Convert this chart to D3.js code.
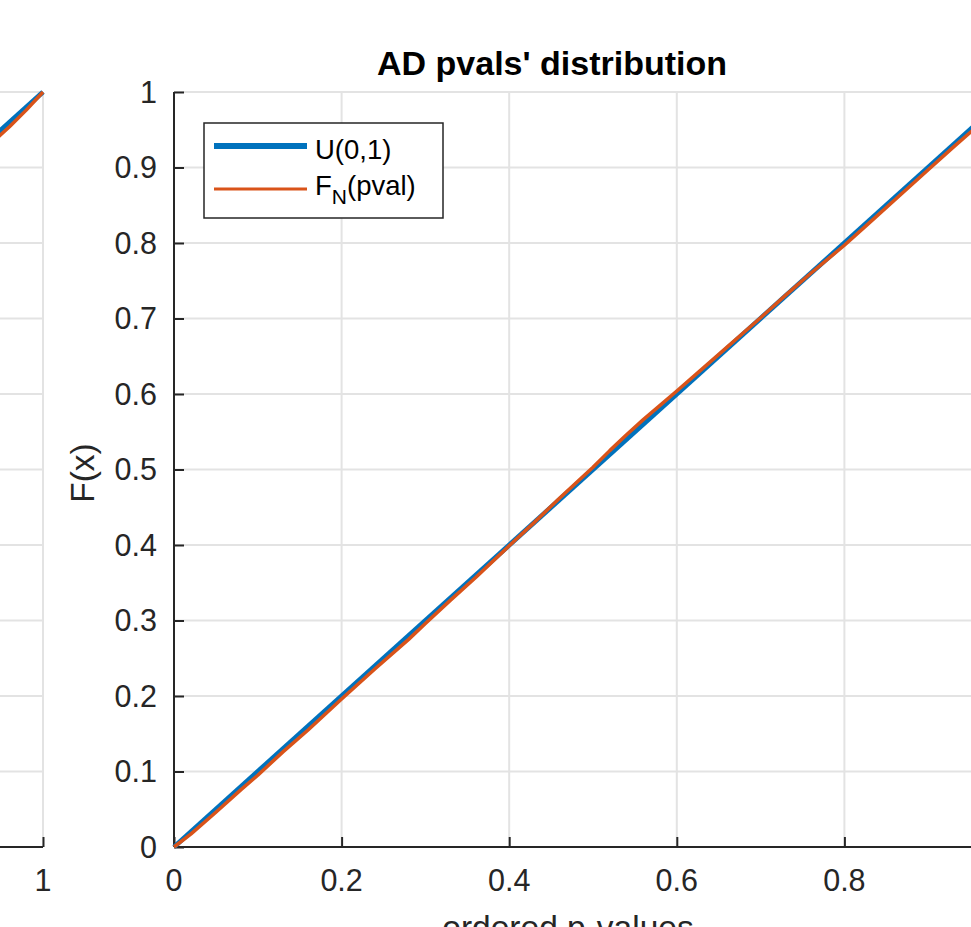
<!DOCTYPE html>
<html>
<head>
<meta charset="utf-8">
<script src="https://cdn.jsdelivr.net/npm/d3@7"></script>
<style>
	body { margin: 0; background: #fff; }
	svg { display: block; font-family: "Liberation Sans", Arial, sans-serif; }
	.grid line { stroke: #e3e3e3; stroke-width: 2; }
	.axis-line { stroke: #262626; stroke-width: 2; fill: none; }
	.tick-label { fill: #262626; font-size: 30.5px; }
</style>
</head>
<body>
<svg id="chart" width="971" height="927"></svg>
<script>
// data
var yTicks = [0, 0.1, 0.2, 0.3, 0.4, 0.5, 0.6, 0.7, 0.8, 0.9, 1];
var yTickLabels = ["0", "0.1", "0.2", "0.3", "0.4", "0.5", "0.6", "0.7", "0.8", "0.9", "1"];
var xTicks = [0, 0.2, 0.4, 0.6, 0.8, 1];
var xTickLabels = ["0", "0.2", "0.4", "0.6", "0.8", "1"];

var uniformX = [0, 1];
var uniformF = [0, 1];

// empirical cdf of the AD p-values (main panel)
var pvalX = [0, 0.02, 0.05, 0.08, 0.1, 0.13, 0.16, 0.2, 0.24, 0.28, 0.3, 0.33, 0.36, 0.4, 0.43, 0.46,
	0.5, 0.52, 0.54, 0.56, 0.58, 0.6, 0.63, 0.66, 0.7, 0.73, 0.76, 0.8, 0.83, 0.86, 0.9, 0.93, 0.96, 1];
var pvalF = [0, 0.017, 0.046, 0.076, 0.095, 0.126, 0.155, 0.196, 0.236, 0.275, 0.296, 0.327, 0.357, 0.399, 0.43, 0.462,
	0.503, 0.525, 0.546, 0.566, 0.585, 0.604, 0.633, 0.662, 0.701, 0.731, 0.76, 0.797, 0.827, 0.857, 0.897, 0.927, 0.956, 1];

// the neighbouring panel, only its right end is visible
var leftPvalX = [0.9, 0.93, 0.96, 0.98, 1];
var leftPvalF = [0.893, 0.924, 0.954, 0.976, 1];

var legendLabels = ["U(0,1)", "F", "N", "(pval)"];

var svg = d3.select("#chart");
var blue = "#0072BD", orange = "#D95319";
var figWidth = 971;

var yScale = d3.scaleLinear().domain([0, 1]).range([847, 92]);

/* draws one cdf panel; xRange is the pixel span of x in [0,1] */
function cdf_panel(container, xRange, opts) {
	var g = container.append("g").attr("class", "panel");
	var xScale = d3.scaleLinear().domain([0, 1]).range(xRange);

	var grid = g.append("g").attr("class", "grid");
	grid.selectAll(".gy").data(yTicks).enter()
		.append("line").attr("class", "gy")
		.attr("x1", xRange[0]).attr("x2", xRange[1])
		.attr("y1", function(d){ return yScale(d); })
		.attr("y2", function(d){ return yScale(d); });
	grid.selectAll(".gx").data(xTicks.slice(1)).enter()
		.append("line").attr("class", "gx")
		.attr("x1", function(d){ return xScale(d); })
		.attr("x2", function(d){ return xScale(d); })
		.attr("y1", yScale(0)).attr("y2", yScale(1));

	// inward ticks, matlab style
	var xAxis = d3.axisTop(xScale).tickValues(xTicks).tickSize(10).tickFormat("");
	var yAxis = d3.axisRight(yScale).tickValues(yTicks).tickSize(10).tickFormat("");
	var xg = g.append("g").attr("transform", "translate(0," + yScale(0) + ")").call(xAxis);
	var yg = g.append("g").attr("transform", "translate(" + xRange[0] + ",0)").call(yAxis);
	[xg, yg].forEach(function(a){
		a.select(".domain").attr("class", "axis-line").attr("d",
			a === xg ? "M" + xRange[0] + ",0H" + xRange[1] : "M0," + yScale(0) + "V" + yScale(1));
		a.selectAll(".tick line").attr("stroke", "#262626").attr("stroke-width", 2);
	});

	// only labels that fall inside the figure
	var xl = xTicks.map(function(d, i){ return {v: d, t: xTickLabels[i]}; })
		.filter(function(d){ return xScale(d.v) > 10 && xScale(d.v) < figWidth - 10; });
	g.selectAll(".xlab").data(xl).enter()
		.append("text").attr("class", "tick-label xlab")
		.attr("x", function(d){ return xScale(d.v); })
		.attr("y", 891)
		.attr("text-anchor", "middle")
		.text(function(d){ return d.t; });
	if (xRange[0] > 60) {
		g.selectAll(".ylab").data(yTicks).enter()
			.append("text").attr("class", "tick-label ylab")
			.attr("x", xRange[0] - 17)
			.attr("y", function(d){ return yScale(d); })
			.attr("dy", "0.36em")
			.attr("text-anchor", "end")
			.text(function(d, i){ return yTickLabels[i]; });
	}

	var line = d3.line()
		.x(function(d){ return xScale(d[0]); })
		.y(function(d){ return yScale(d[1]); });
	g.append("path")
		.datum(d3.zip(uniformX, uniformF))
		.attr("fill", "none").attr("stroke", blue).attr("stroke-width", 5)
		.attr("d", line);
	g.append("path")
		.datum(d3.zip(opts.x, opts.f))
		.attr("fill", "none").attr("stroke", orange).attr("stroke-width", 3.5)
		.attr("stroke-linejoin", "round")
		.attr("d", line);
	return g;
}

var unit = 838;
cdf_panel(svg, [43 - unit, 43], { x: leftPvalX, f: leftPvalF });
cdf_panel(svg, [174, 174 + unit], { x: pvalX, f: pvalF });

svg.append("text")
	.attr("x", 552).attr("y", 75)
	.attr("text-anchor", "middle")
	.attr("font-size", 34).attr("font-weight", "bold").attr("fill", "#000")
	.text("AD pvals' distribution");

svg.append("text")
	.attr("x", 568).attr("y", 939)
	.attr("text-anchor", "middle")
	.attr("font-size", 33.5).attr("fill", "#262626")
	.text("ordered p-values");

svg.append("text")
	.attr("transform", "translate(94,473) rotate(-90)")
	.attr("text-anchor", "middle")
	.attr("font-size", 33.5).attr("fill", "#262626")
	.text("F(x)");

// legend
var leg = svg.append("g").attr("class", "legend");
leg.append("rect")
	.attr("x", 204).attr("y", 123).attr("width", 239).attr("height", 95)
	.attr("fill", "#fff").attr("stroke", "#262626").attr("stroke-width", 1.5);
leg.append("line").attr("x1", 214).attr("x2", 307).attr("y1", 146).attr("y2", 146)
	.attr("stroke", blue).attr("stroke-width", 6);
leg.append("line").attr("x1", 214).attr("x2", 307).attr("y1", 189).attr("y2", 189)
	.attr("stroke", orange).attr("stroke-width", 3);
leg.append("text").attr("x", 315).attr("y", 159)
	.attr("font-size", 27.5).attr("fill", "#000")
	.text(legendLabels[0]);
var ft = leg.append("text").attr("x", 315).attr("y", 195)
	.attr("font-size", 27.5).attr("fill", "#000");
ft.append("tspan").text(legendLabels[1]);
ft.append("tspan").attr("dy", 9).attr("font-size", 21).text(legendLabels[2]);
ft.append("tspan").attr("dy", -9).text(legendLabels[3]);
</script>
</body>
</html>
